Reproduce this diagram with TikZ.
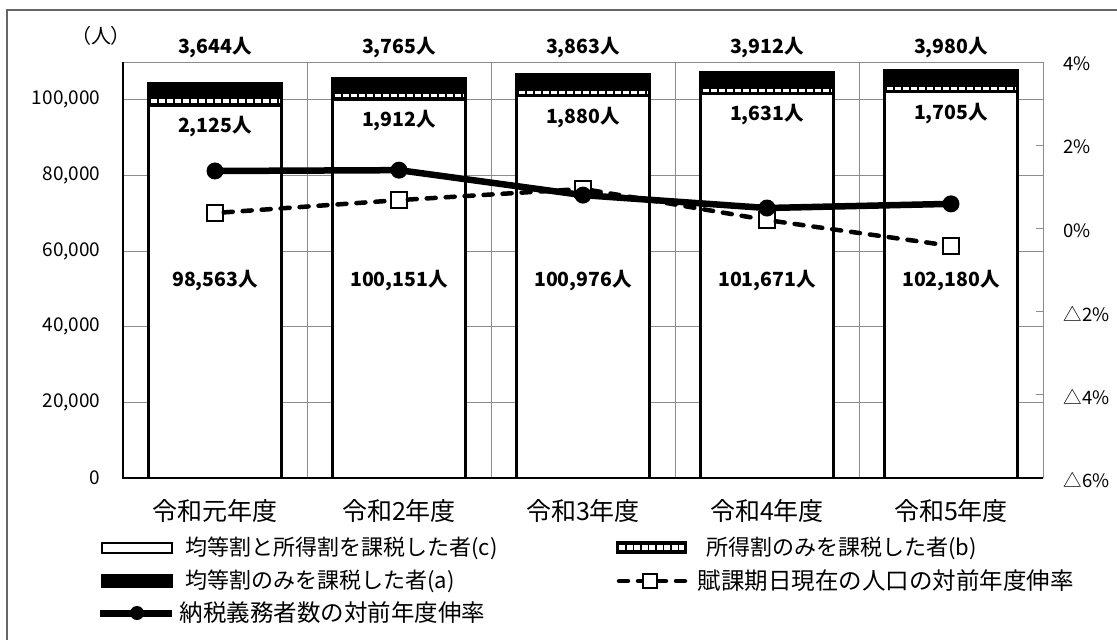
\documentclass[tikz,border=0pt]{standalone}
\usepackage{fontspec}
\setmainfont{Noto Sans CJK JP}
\usepackage{tikz}

\newcommand{\fsz}[1]{\fontsize{#1pt}{#1pt}\selectfont}

\begin{document}
\begin{tikzpicture}[
    x=1pt, y=-1pt,
    grid/.style={draw=black!45, line width=1pt},
    axisline/.style={draw=black, line width=1.2pt},
    barline/.style={draw=black, line width=2.5pt},
    ticklabel/.style={font=\fsz{19}, anchor=east},
    ratelabel/.style={font=\fsz{18.5}, anchor=west},
    datalabel/.style={font=\fsz{19.5}\bfseries},
    catlabel/.style={font=\fsz{25}},
    legtext/.style={font=\fsz{22}, anchor=west},
    legtextwide/.style={font=\fsz{23.5}, anchor=west},
    rateline/.style={line width=6.5pt},
    popline/.style={line width=4.5pt, dash pattern=on 9pt off 10pt, line cap=round},
    ratedot/.style={circle, fill=black, inner sep=0pt, minimum size=17pt},
    popbox/.style={rectangle, draw=black, fill=white, line width=1.5pt, inner sep=0pt, minimum size=16pt}
]
\useasboundingbox (0,0) rectangle (1117,640);

% Frame
\draw[black!60, line width=1.2pt] (1117,10) -- (7,10) -- (7,640);

%==============================================================================
% Grid and axes
%==============================================================================
\foreach \v in {1,...,5}
    \draw[grid] (123,{478-75.636*\v}) -- (1043,{478-75.636*\v});
\draw[grid] (123,62) -- (1043,62);
\foreach \k in {1,...,4}
    \draw[grid] ({123+184*\k},62) -- ({123+184*\k},478);

% Right axis (rates)
\draw[grid] (1043,62) -- (1043,478);
\foreach \k in {1,...,4}
    \draw[grid] (1036,{62+83.2*\k}) -- (1043,{62+83.2*\k});

% Left axis (persons)
\draw[axisline] (123,62) -- (123,478) -- (1043,478);

\node[font=\fsz{20}] (unit) at (101,36) {\addfontfeature{RawFeature=+palt}（人）};

\foreach \v/\t in {0/0, 1/{20,000}, 2/{40,000}, 3/{60,000}, 4/{80,000}, 5/{100,000}}
    \node[ticklabel] (yl\v) at (104,{478-75.636*\v}) {\t};

\foreach \k/\t in {0/4\%, 1/2\%, 2/0\%, 3/△2\%, 4/△4\%, 5/△6\%}
    \node[ratelabel] (rl\k) at (1060,{64+83.2*\k}) {\t};

%==============================================================================
% Stacked bars: (c) bottom, (b) striped, (a) black
%==============================================================================
\foreach \i/\vc/\vb/\va/\tc/\tb/\ta/\yr in {
    1/98.563/2.125/3.644/{98,563}/{2,125}/{3,644}/元,
    2/100.151/1.912/3.765/{100,151}/{1,912}/{3,765}/2,
    3/100.976/1.880/3.863/{100,976}/{1,880}/{3,863}/3,
    4/101.671/1.631/3.912/{101,671}/{1,631}/{3,912}/4,
    5/102.180/1.705/3.980/{102,180}/{1,705}/{3,980}/5}{
    \pgfmathsetmacro\xc{31+184*\i}
    \pgfmathsetmacro\xl{\xc-66.5}
    \pgfmathsetmacro\xr{\xc+66.5}
    \pgfmathsetmacro\yc{478-3.7818*\vc}
    \pgfmathsetmacro\yb{\yc-3.7818*\vb}
    \pgfmathsetmacro\ya{\yb-3.7818*\va}
    \pgfmathsetmacro\ym{(\yc+\yb)/2}
    \pgfmathsetmacro\hw{3.7818*\vb-4}
    \draw[barline, fill=white] (\xl,478) rectangle (\xr,\yc);
    \draw[barline, fill=black] (\xl,\yc) rectangle (\xr,\yb);
    \draw[white, line width=\hw pt, dash pattern=on 6pt off 2pt] (\xl+2,\ym) -- (\xr-2,\ym);
    \draw[barline, fill=black] (\xl,\yb) rectangle (\xr,\ya);
    \node[datalabel] (na\i) at (\xc,48) {\ta 人};
    \node[datalabel] (nb\i) at (\xc,\yc+21.5) {\tb 人};
    \node[datalabel] (nc\i) at (\xc,281) {\tc 人};
    \node[catlabel] (yr\i) at (\xc,511) {令和\yr 年度};
}

%==============================================================================
% Rates (right axis): y = 478 - 41.6*(6+rate)
%==============================================================================
% population growth (dashed, squares)
\node[popbox] (p1) at (215,{478-41.6*(6+0.37)}) {};
\node[popbox] (p2) at (399,{478-41.6*(6+0.68)}) {};
\node[popbox] (p3) at (583,{478-41.6*(6+0.95)}) {};
\node[popbox] (p4) at (767,{478-41.6*(6+0.20)}) {};
\node[popbox] (p5) at (951,{478-41.6*(6-0.42)}) {};
\draw[popline] (p1) -- (p2) -- (p3) -- (p4) -- (p5);

% taxpayers growth (solid, dots)
\coordinate (r1) at (215,{478-41.6*(6+1.38)});
\coordinate (r2) at (399,{478-41.6*(6+1.40)});
\coordinate (r3) at (583,{478-41.6*(6+0.80)});
\coordinate (r4) at (767,{478-41.6*(6+0.49)});
\coordinate (r5) at (951,{478-41.6*(6+0.59)});
\draw[rateline] (r1) -- (r2) -- (r3) -- (r4) -- (r5);
\foreach \i in {1,...,5}
    \node[ratedot] (d\i) at (r\i) {};

%==============================================================================
% Legend
%==============================================================================
\draw[barline, line width=2pt, fill=white] (102,543) rectangle (172,553);
\node[legtext] (lgc) at (182,548) {均等割と所得割を課税した者(c)};

\draw[barline, line width=2pt, fill=black] (102,575) rectangle (172,587);
\node[legtext] (lga) at (182,581) {均等割のみを課税した者(a)};

\coordinate (lr1) at (100,613);
\coordinate (lr2) at (172,613);
\draw[rateline, line width=7pt] (lr1) -- (lr2);
\node[ratedot, minimum size=14pt] (lrd) at (137,613) {};
\node[legtextwide] (lgr) at (176,613) {納税義務者数の対前年度伸率};

\draw[barline, line width=2pt, fill=black] (617,542) rectangle (686,553);
\draw[white, line width=5pt, dash pattern=on 6pt off 1.5pt] (619,547.5) -- (684,547.5);
\node[legtext] (lgb) at (703,548) {所得割のみを課税した者(b)};

\coordinate (lp1) at (619,581);
\coordinate (lp2) at (690,581);
\draw[popline] (lp1) -- (lp2);
\node[popbox, minimum size=14pt] (lpd) at (650,581) {};
\node[legtextwide] (lgp) at (694,581) {賦課期日現在の人口の対前年度伸率};

\end{tikzpicture}
\end{document}
